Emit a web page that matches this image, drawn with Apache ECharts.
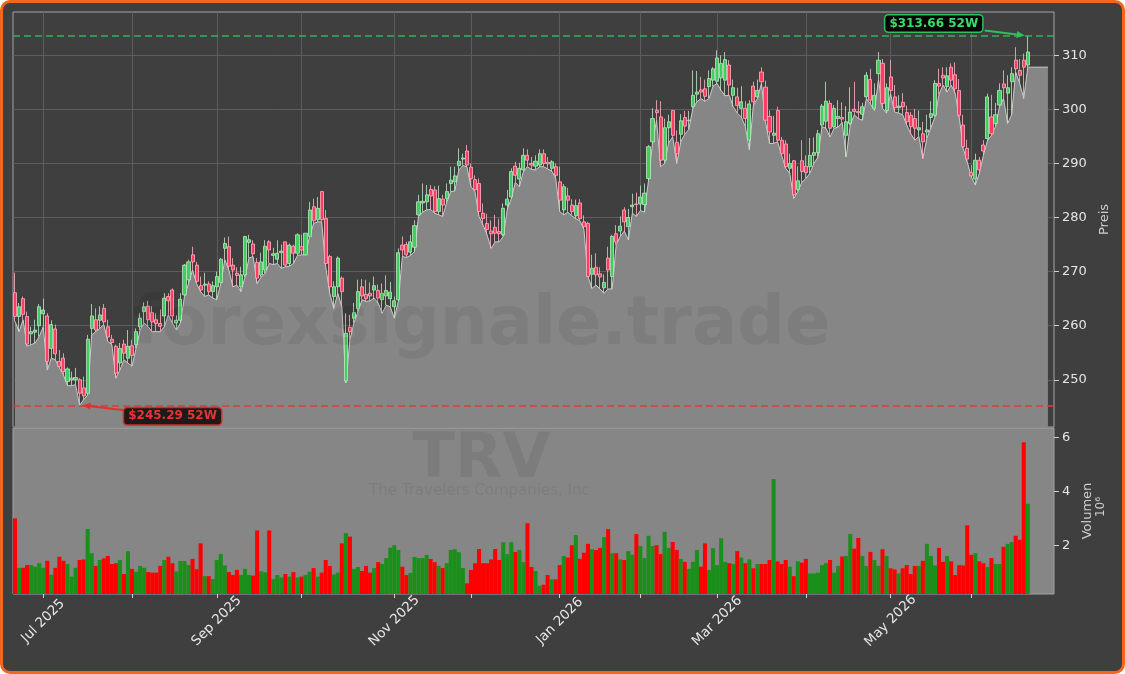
<!DOCTYPE html>
<html><head><meta charset="utf-8">
<script src="https://cdn.jsdelivr.net/npm/echarts@6/dist/echarts.min.js"></script>
<style>
html,body{margin:0;padding:0;background:#ffffff;}
#frame{position:absolute;left:0;top:0;width:1125px;height:674px;box-sizing:border-box;border:3px solid #f4661b;border-radius:10px;background:#3f3f3f;}
#chart{position:absolute;left:0;top:0;width:1125px;height:674px;}
</style></head><body>
<div id="frame"></div><div id="chart"></div>
<script>
// ---- calendar (trading days) ----
const startDate = '2025-06-20';
const axisEndDate = '2026-06-30';
const holidays = ['2025-07-04','2025-09-01','2025-11-27','2025-12-25','2026-01-01','2026-01-19','2026-02-16','2026-04-03','2026-05-25','2026-06-19'];
const monthNames = ['Jan','Feb','Mar','Apr','May','Jun','Jul','Aug','Sep','Oct','Nov','Dec'];

// ---- daily prices ----
const opens = [266.1,261.7,265.0,261.7,258.5,258.8,260.0,262.2,261.8,255.8,
259.4,253.4,254.0,249.7,250.0,250.0,250.0,248.5,247.5,259.5,
261.1,261.0,263.2,259.8,257.5,256.2,253.1,256.6,254.0,256.3,
256.5,259.8,262.6,263.6,262.4,261.1,260.4,261.8,265.4,266.6,
260.5,261.0,265.7,268.5,273.1,271.2,267.4,267.5,267.7,266.3,
267.2,268.0,274.3,274.6,271.2,269.7,267.2,269.4,275.4,275.1,
271.7,269.4,270.3,275.5,273.0,272.3,273.5,275.5,271.5,274.7,
273.4,274.6,273.1,276.5,282.0,279.6,284.8,279.8,272.8,265.4,
267.2,268.8,249.8,259.7,261.4,263.2,267.2,265.8,266.0,266.6,
266.5,264.8,265.5,265.0,263.5,264.8,274.9,275.0,273.6,274.5,
280.5,282.7,282.9,285.2,285.1,281.1,283.4,283.5,286.3,286.6,
289.6,290.8,292.3,289.3,287.0,286.3,280.8,278.9,277.5,278.2,
277.4,276.8,282.3,283.8,289.5,287.1,288.8,291.5,290.0,289.5,
289.7,291.8,290.2,289.1,289.4,286.6,281.4,284.0,282.3,280.3,
282.7,279.2,278.9,269.5,270.8,269.6,267.0,272.5,269.1,277.0,
277.5,281.4,278.3,282.0,282.5,282.5,282.4,287.2,294.0,299.8,
298.6,290.6,296.6,299.8,293.9,295.4,298.5,297.9,300.5,302.8,
303.6,303.8,304.2,305.4,305.2,305.8,305.4,308.2,302.6,302.3,
300.2,300.2,294.3,304.3,302.3,306.9,304.1,298.7,295.2,299.8,
294.3,293.6,289.1,290.5,285.2,290.5,289.5,289.4,291.5,292.0,
297.1,297.8,301.1,296.8,298.3,298.5,295.2,297.4,300.0,299.6,
299.1,302.3,305.5,300.2,306.6,308.5,299.8,306.0,302.3,300.3,
301.3,299.4,298.9,298.3,296.2,295.5,295.8,298.5,298.9,304.8,
306.3,304.2,307.8,306.4,303.5,297.1,292.8,288.3,287.1,290.6,
293.4,294.6,298.6,297.4,300.8,304.7,303.0,305.1,309.1,307.2,
309.1,308.2];
const closes = [261.7,263.5,262.1,256.6,258.9,259.2,263.5,262.9,253.4,260.2,
254.8,252.5,251.5,252.0,250.3,250.4,247.5,247.0,257.5,261.8,
259.2,262.0,260.7,257.9,256.9,251.2,255.8,254.9,256.2,254.5,
258.9,261.4,263.5,261.1,260.7,260.4,259.9,265.1,264.6,261.8,
261.0,264.9,271.2,271.8,271.8,268.2,266.6,267.7,266.3,267.4,
269.1,272.3,275.2,271.0,270.3,269.3,269.4,276.5,275.9,273.3,
268.8,271.8,274.7,274.0,273.3,273.4,273.8,271.2,274.9,273.4,
276.8,274.0,277.1,281.4,279.4,281.7,279.6,271.5,267.2,267.2,
272.5,266.3,258.6,258.9,262.4,266.3,265.5,265.0,265.5,267.4,
265.1,266.0,266.5,266.2,264.6,273.5,274.0,273.1,275.5,278.5,
282.9,283.0,284.2,284.0,281.1,283.5,282.3,284.8,286.9,287.7,
290.4,291.0,289.7,287.2,285.1,281.1,279.8,277.8,277.0,277.1,
277.0,281.7,283.4,288.5,287.8,289.1,291.5,290.6,289.7,290.4,
291.8,290.0,289.9,290.3,287.8,283.2,285.7,283.2,281.1,282.2,
279.8,278.3,269.1,270.6,269.4,269.0,268.0,270.3,276.5,275.5,
278.4,279.2,280.0,282.3,282.4,283.8,284.5,293.1,298.3,299.4,
290.6,296.6,297.7,295.2,291.8,297.9,296.9,298.0,302.6,303.2,
303.2,302.4,305.7,307.5,309.5,308.5,309.2,304.5,304.0,300.7,
301.4,298.3,301.0,301.4,303.5,305.1,298.0,295.8,295.6,294.3,
291.8,289.4,290.0,284.2,286.8,288.5,288.3,291.5,292.0,295.5,
300.6,301.5,296.5,300.2,298.7,298.2,297.7,299.5,299.6,299.4,
300.5,306.3,301.7,302.6,309.1,301.1,304.0,303.5,300.3,300.6,
300.5,297.7,296.8,296.5,296.6,294.0,296.2,299.2,304.8,304.3,
305.8,306.2,305.4,303.8,298.9,293.1,290.8,287.7,290.6,288.8,
292.3,302.3,295.5,299.0,303.5,304.0,304.0,306.6,307.5,306.3,
307.8,310.6];
const lows = [260.8,258.9,261.1,256.2,256.5,256.8,258.0,259.8,251.8,254.0,
253.7,252.2,250.9,248.9,248.9,249.1,245.29,246.3,247.2,258.3,
258.9,259.5,260.2,257.1,256.5,250.3,251.8,253.7,253.1,252.5,
255.8,259.2,260.5,259.8,258.9,258.9,258.9,259.8,262.0,260.5,
259.2,260.5,265.4,267.8,270.3,267.8,266.3,265.4,265.7,265.1,
264.8,267.8,272.2,270.3,267.2,267.5,266.3,269.0,272.5,272.8,
267.8,269.0,269.7,271.5,271.3,271.5,270.6,270.9,271.0,271.5,
273.0,273.1,273.1,276.5,278.9,279.2,279.2,270.9,266.0,263.2,
266.0,263.5,249.4,257.4,260.5,262.6,264.8,264.5,264.6,265.1,
264.2,262.3,263.8,263.5,261.4,264.5,272.8,272.6,273.0,273.7,
280.2,281.0,281.4,281.5,280.8,280.5,280.2,282.8,284.8,284.9,
288.8,289.6,289.4,285.7,284.8,280.2,278.6,276.8,274.3,275.5,
275.5,276.5,281.5,283.5,286.5,285.7,288.5,289.4,288.9,288.8,
289.4,289.4,289.0,288.6,287.3,281.1,280.5,281.0,280.3,279.8,
279.4,277.8,269.1,266.9,267.5,266.8,266.0,266.8,266.8,275.0,
276.5,277.5,275.9,280.8,280.2,281.3,281.0,286.8,293.8,298.0,
289.4,290.0,293.8,294.9,290.0,294.0,295.4,296.3,300.2,301.4,
302.0,301.5,302.0,304.3,304.8,303.5,302.5,302.6,300.5,299.3,
298.6,296.8,292.5,300.8,302.0,304.8,297.7,293.7,293.7,294.0,
291.5,289.1,288.2,283.5,284.8,286.5,287.2,288.2,290.0,291.2,
296.8,296.5,294.9,296.5,296.7,297.6,291.2,297.1,299.0,298.3,
298.0,302.0,301.0,299.8,305.5,300.2,299.3,302.9,299.5,299.3,
299.0,297.1,295.5,294.3,295.0,290.9,294.7,296.6,298.6,302.8,
304.5,303.2,304.5,303.0,298.6,292.8,290.3,287.5,286.0,288.2,
291.5,294.2,295.2,296.8,300.5,302.0,297.4,299.0,306.9,304.8,
302.0,307.8];
const highs = [269.8,264.2,265.4,262.6,259.8,261.1,264.0,265.0,262.3,261.0,
260.2,255.5,254.9,252.3,251.5,252.2,250.3,250.6,258.3,264.0,
263.2,263.6,264.0,261.1,258.3,256.5,256.8,257.4,259.2,257.4,
259.5,262.3,264.3,264.6,263.6,262.3,263.0,266.0,266.0,266.9,
261.9,266.0,271.4,272.2,274.6,271.8,269.1,269.8,268.2,268.2,
270.0,272.5,276.3,276.5,272.5,270.8,270.9,276.6,276.8,275.8,
272.5,273.5,275.8,275.8,274.4,275.8,275.0,275.5,275.2,275.0,
277.1,276.8,277.1,282.9,283.5,283.8,284.8,281.4,273.1,268.2,
272.8,269.1,262.3,262.0,264.2,268.5,268.6,268.5,268.0,269.1,
267.6,267.8,269.3,268.1,265.4,274.3,276.5,275.5,276.8,279.5,
284.2,286.3,286.0,286.0,285.8,285.9,284.2,286.3,289.4,289.4,
292.8,291.8,293.4,290.0,287.8,287.2,282.6,280.7,279.5,280.5,
279.8,282.6,285.1,289.1,290.3,290.1,292.8,292.6,291.2,291.5,
292.6,292.6,291.2,290.6,290.0,289.4,286.2,285.5,283.4,283.3,
283.4,280.4,279.2,273.1,273.4,270.8,269.5,274.6,276.8,278.6,
280.2,281.9,281.6,284.4,284.6,285.9,286.3,293.4,300.2,301.7,
301.5,298.3,299.0,299.8,296.1,299.1,299.7,299.7,307.2,307.1,
306.0,305.5,307.2,307.8,310.9,310.0,310.6,309.1,305.5,304.0,
304.3,301.5,301.7,305.1,305.5,307.8,305.3,299.8,298.8,300.5,
294.9,294.3,291.8,290.6,289.5,294.3,291.5,294.7,294.8,296.2,
301.0,305.1,301.7,300.8,301.7,301.3,300.6,304.1,305.1,301.5,
301.2,306.9,307.5,304.8,310.6,309.3,304.8,309.1,304.5,302.6,
303.0,300.7,299.5,300.1,299.8,297.7,299.0,301.5,305.4,307.5,
307.8,307.8,308.5,308.7,305.6,299.0,294.4,289.7,291.8,291.2,
294.3,302.9,302.7,301.2,304.8,307.2,306.3,307.8,311.5,309.3,
310.3,313.66];
// flat continuation of the shaded area after the last session
const areaTail = [307.8,307.8,307.8,307.8,307.8];

// ---- daily volume (millions) ----
const volumes = [3.0,1.16,1.16,1.26,1.26,1.2,1.33,1.16,1.42,0.9,
1.16,1.57,1.42,1.3,0.83,1.16,1.45,1.47,2.6,1.7,
1.23,1.45,1.51,1.6,1.3,1.33,1.45,0.93,1.78,1.12,
1.01,1.23,1.16,1.0,0.98,0.98,1.23,1.45,1.57,1.33,
1.02,1.41,1.41,1.26,1.49,1.11,2.07,0.85,0.85,0.74,
1.45,1.67,1.25,1.0,0.89,1.08,0.89,1.12,0.89,0.87,
2.55,1.03,0.99,2.55,0.74,0.89,0.8,0.93,0.83,1.0,
0.8,0.83,0.89,1.01,1.15,0.83,0.98,1.45,1.23,0.91,
0.98,2.07,2.45,2.32,1.12,1.19,1.04,1.23,0.98,1.15,
1.37,1.3,1.52,1.91,2.0,1.82,1.2,0.89,0.97,1.56,
1.52,1.52,1.64,1.49,1.37,1.23,1.15,1.33,1.82,1.85,
1.74,1.15,0.58,1.08,1.33,1.86,1.33,1.33,1.47,1.86,
1.45,2.11,1.67,2.11,1.75,1.82,1.37,2.82,1.19,1.04,
0.49,0.53,0.89,0.73,0.73,1.26,1.6,1.54,2.0,2.38,
1.49,1.72,2.05,1.85,1.82,1.9,2.3,2.6,1.7,1.7,
1.47,1.45,1.78,1.65,2.42,1.97,1.52,2.35,1.97,2.0,
1.67,2.5,1.9,2.12,1.82,1.49,1.38,1.12,1.38,1.82,
1.2,2.07,1.08,1.89,1.26,2.26,1.38,1.33,1.3,1.78,
1.54,1.33,1.47,1.14,1.3,1.3,1.3,1.45,4.46,1.4,
1.3,1.45,1.2,0.85,1.4,1.35,1.49,0.95,0.95,0.98,
1.26,1.33,1.45,0.98,1.23,1.58,1.6,2.42,1.87,2.27,
1.6,1.23,1.75,1.45,1.23,1.85,1.6,1.14,1.1,0.95,
1.14,1.26,0.93,1.23,1.23,1.42,2.05,1.6,1.25,1.9,
1.38,1.6,1.4,0.89,1.26,1.25,2.74,1.64,1.7,1.4,
1.33,1.19,1.52,1.3,1.3,1.94,2.05,2.12,2.35,2.2,
5.83,3.54];

const priceTicks = [250,260,270,280,290,300,310];
const volumeTicks = [2,4,6];

// ---- build categories ----
function iso(d){return d.toISOString().slice(0,10);}
function tradingDays(from,to){
  const out=[]; const d=new Date(from+'T00:00:00Z'); const end=new Date(to+'T00:00:00Z');
  while(d<=end){const wd=d.getUTCDay(); const s=iso(d); if(wd!==0&&wd!==6&&holidays.indexOf(s)<0) out.push(s); d.setUTCDate(d.getUTCDate()+1);}
  return out;
}
const dates = tradingDays(startDate, axisEndDate);
const monthStart = dates.map((s,i)=> i>0 && s.slice(0,7)!==dates[i-1].slice(0,7));
const labelMonth = dates.map((s,i)=> monthStart[i] && (parseInt(s.slice(5,7),10)-1)%2===0);

const candleData = opens.map((o,i)=>[o, closes[i], lows[i], highs[i]]);
const areaData = lows.concat(areaTail);
const UP_VOL='#1a8f1a', DOWN_VOL='#ff0000';
const volData = volumes.map((v,i)=>({value:v, itemStyle:{color: closes[i]>=opens[i]?UP_VOL:DOWN_VOL}}));

let iHigh=0,iLow=0;
highs.forEach((h,i)=>{if(h>highs[iHigh]) iHigh=i;});
lows.forEach((l,i)=>{if(l<lows[iLow]) iLow=i;});
const high52=highs[iHigh], low52=lows[iLow];

const FONT='DejaVu Sans';
const labelColor='#e6e6e6';

const chart = echarts.init(document.getElementById('chart'), null, {renderer:'canvas'});
const option = {
  animation:false,
  backgroundColor:'transparent',
  textStyle:{fontFamily:FONT},
  grid:[
    {left:13, top:12, width:1041, height:415, show:true, borderColor:'#a5a5a5', borderWidth:1, backgroundColor:'transparent'},
    {left:13, top:428, width:1041, height:166, show:true, borderColor:'#a5a5a5', borderWidth:1, backgroundColor:'#868686'}
  ],
  xAxis:[
    {type:'category', gridIndex:0, data:dates, boundaryGap:true,
     axisLine:{show:false}, axisTick:{show:false}, axisLabel:{show:false},
     splitLine:{show:true, alignWithLabel:true, interval:(i)=>monthStart[i], lineStyle:{color:'#5e5e5e', width:1}}},
    {type:'category', gridIndex:1, data:dates, boundaryGap:true,
     axisLine:{show:false},
     axisTick:{show:true, alignWithLabel:true, length:4, interval:(i)=>monthStart[i], lineStyle:{color:'#d0d0d0'}},
     axisLabel:{show:true, interval:(i)=>labelMonth[i], rotate:45, align:'center', verticalAlign:'middle', margin:27,
       color:labelColor, fontSize:13.5, fontFamily:FONT,
       formatter:(v)=> monthNames[parseInt(v.slice(5,7),10)-1]+' '+v.slice(0,4)},
     splitLine:{show:false}}
  ],
  yAxis:[
    {type:'value', gridIndex:0, position:'right', min:241.27, max:318.0, scale:true,
     axisLine:{show:false},
     axisTick:{show:true, length:5, customValues:priceTicks, lineStyle:{color:'#d0d0d0'}},
     axisLabel:{show:true, customValues:priceTicks, margin:8, color:labelColor, fontSize:13, fontFamily:FONT},
     splitLine:{show:true, lineStyle:{color:'#5e5e5e', width:1}},
     name:'Preis', nameLocation:'middle', nameRotate:90, nameGap:42,
     nameTextStyle:{color:'#cfcfcf', fontSize:13, fontFamily:FONT}},
    {type:'value', gridIndex:1, position:'right', min:0.185, max:6.36,
     axisLine:{show:false},
     axisTick:{show:true, length:5, customValues:volumeTicks, lineStyle:{color:'#d0d0d0'}},
     axisLabel:{show:true, customValues:volumeTicks, margin:8, color:labelColor, fontSize:13, fontFamily:FONT},
     splitLine:{show:false},
     name:'Volumen', nameLocation:'middle', nameRotate:90, nameGap:19,
     nameTextStyle:{color:'#cfcfcf', fontSize:13, fontFamily:FONT}}
  ],
  series:[
    {type:'line', name:'area', xAxisIndex:0, yAxisIndex:0, data:areaData, showSymbol:false, symbol:'none',
     lineStyle:{color:'#cdcdcd', width:1}, areaStyle:{color:'#868686', opacity:1, origin:'start'}, z:1, silent:true},
    {type:'candlestick', name:'TRV', xAxisIndex:0, yAxisIndex:0, data:candleData, barWidth:3.6, z:3,
     itemStyle:{color:'#3fcf5f', color0:'#ff3d63', borderColor:'#bfe6c3', borderColor0:'#ffb3c1', borderWidth:0.8},
     markLine:{symbol:['none','none'], silent:true, animation:false, label:{show:false},
       data:[
         {yAxis:high52, lineStyle:{color:'#33b35a', width:1.5, type:[7,4]}},
         {yAxis:low52, lineStyle:{color:'#dc3c3c', width:1.5, type:[7,4]}}
       ]}},
    {type:'bar', name:'Volumen', xAxisIndex:1, yAxisIndex:1, data:volData, barWidth:'100%', barGap:'0%', z:2, silent:true}
  ]
};
chart.setOption(option);

// ---- annotations anchored on data points ----
function arrowEls(from,to,color){
  const dx=to[0]-from[0], dy=to[1]-from[1], len=Math.hypot(dx,dy), ux=dx/len, uy=dy/len, hl=8, hw=3.5;
  const b=[to[0]-ux*hl, to[1]-uy*hl];
  return [
    {type:'line', z:60, shape:{x1:from[0],y1:from[1],x2:b[0],y2:b[1]}, style:{stroke:color, lineWidth:2}},
    {type:'polygon', z:60, shape:{points:[to,[b[0]-uy*hw,b[1]+ux*hw],[b[0]+uy*hw,b[1]-ux*hw]]}, style:{fill:color}}
  ];
}
const pH = chart.convertToPixel({xAxisIndex:0,yAxisIndex:0},[iHigh, high52]);
const pL = chart.convertToPixel({xAxisIndex:0,yAxisIndex:0},[iLow, low52]);
const g = chart.getModel().getComponent('grid',0).coordinateSystem.getRect();
const vg = chart.getModel().getComponent('grid',1).coordinateSystem.getRect();
const elements = [
  {type:'text', z:40, x:g.x+g.width*0.45, y:g.y+g.height*0.757, silent:true,
   style:{text:'forexsignale.trade', font:'bold 67px '+FONT, fill:'rgba(0,0,0,0.065)', align:'center', verticalAlign:'middle'}},
  {type:'text', z:40, x:g.x+g.width*0.45, y:vg.y+33, silent:true,
   style:{text:'TRV', font:'bold 62px '+FONT, fill:'rgba(0,0,0,0.07)', align:'center', verticalAlign:'middle'}},
  {type:'text', z:40, x:g.x+g.width*0.448, y:vg.y+63, silent:true,
   style:{text:'The Travelers Companies, Inc', font:'15px '+FONT, fill:'rgba(0,0,0,0.07)', align:'center', verticalAlign:'middle'}},
  {type:'text', z:40, x:vg.x+vg.width+47, y:vg.y+vg.height/2-4, rotation:Math.PI/2, silent:true,
   style:{text:'10\u2076', font:'12px '+FONT, fill:'#cfcfcf', align:'center', verticalAlign:'middle'}},
  {type:'text', z:61, x:pH[0]-94, y:pH[1]-12, silent:true,
   style:{text:'$'+high52.toFixed(2)+' 52W', font:'bold 12px '+FONT, fill:'#3ddc6a', align:'center', verticalAlign:'middle',
     backgroundColor:'#050505', borderColor:'#2fbf5c', borderWidth:1.5, borderRadius:3, padding:[2,4,2,4]}},
  {type:'text', z:61, x:pL[0]+93, y:pL[1]+11, silent:true,
   style:{text:'$'+low52.toFixed(2)+' 52W', font:'bold 12px '+FONT, fill:'#e83434', align:'center', verticalAlign:'middle',
     backgroundColor:'#1e1a1a', borderColor:'#cf2e2e', borderWidth:1.5, borderRadius:3, padding:[2,4,2,4]}}
].concat(arrowEls([pH[0]-43,pH[1]-5],[pH[0]-3,pH[1]],'#2fbf5c'))
 .concat(arrowEls([pL[0]+45,pL[1]+5],[pL[0]+3,pL[1]],'#e03030'));
chart.setOption({graphic:{elements:elements}});
</script></body></html>
